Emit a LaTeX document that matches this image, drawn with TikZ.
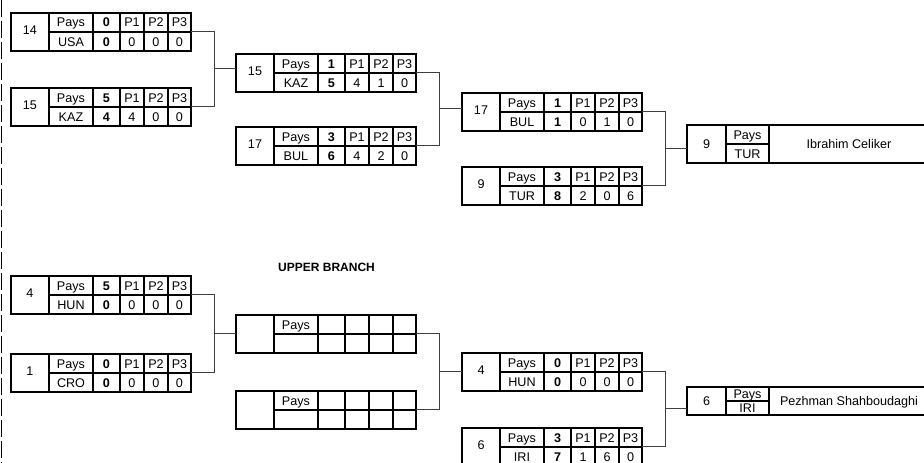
\documentclass[tikz,border=0pt]{standalone}
\usepackage{fontspec}
\setmainfont{Liberation Sans}
\usetikzlibrary{calc}
\tikzset{
 boxline/.style={line width=2.4pt, black},
 innerline/.style={line width=1.8pt, black},
 conn/.style={line width=1pt, black!75},
 txt/.style={inner sep=0pt, text height=9pt, text depth=0pt, font=\fontsize{12.6}{14}\selectfont},
 bt/.style={txt, font=\fontsize{12.6}{14}\selectfont\bfseries},
 titletxt/.style={inner sep=0pt, font=\fontsize{12}{14}\selectfont\bfseries},
 leftdash/.style={line width=1.3pt, dash pattern=on 17pt off 4pt},
}
\newcommand{\boxgrid}{%
 \draw[innerline] (38,0)--(38,38) (82,0)--(82,38) (109,0)--(109,38) (133,0)--(133,38) (157,0)--(157,38) (38,19)--(180,19);
 \draw[boxline] (0,0) rectangle (180,38);}
\newcommand{\matchbox}[9]{%
\begin{scope}[shift={#2}]
 \boxgrid
 \node[txt] (#1-n) at (19,17) {#3};
 \node[txt] (#1-h0) at (60,9.5) {Pays};
 \node[txt] (#1-c) at (60,28.5) {#4};
 \node[bt] (#1-s1) at (95.5,9.5) {#5};
 \node[bt] (#1-s2) at (95.5,28.5) {#6};
 \node[txt] (#1-h1) at (121,9.5) {P1};
 \node[txt] (#1-h2) at (145,9.5) {P2};
 \node[txt] (#1-h3) at (168.5,9.5) {P3};
 \node[txt] (#1-v1) at (121,28.5) {#7};
 \node[txt] (#1-v2) at (145,28.5) {#8};
 \node[txt] (#1-v3) at (168.5,28.5) {#9};
 \coordinate (#1-out) at (180,18);
 \coordinate (#1-left) at (0,19);
\end{scope}}
\newcommand{\emptybox}[2]{%
\begin{scope}[shift={#2}]
 \boxgrid
 \node[txt] (#1-h0) at (60,9.5) {Pays};
 \coordinate (#1-out) at (180,18);
 \coordinate (#1-left) at (0,19);
\end{scope}}
\newcommand{\finalbox}[6]{%
\begin{scope}[shift={#2}]
 \draw[innerline] (39,0)--(39,#3) (82,0)--(82,#3) (39,#3/2)--(82,#3/2);
 \draw[boxline] (0,0) rectangle (245,#3);
 \node[txt] (#1-n) at (19.5,#3/2) {#4};
 \node[txt] (#1-h0) at (60.5,#3/4) {Pays};
 \node[txt] (#1-c) at (60.5,#3*3/4) {#5};
 \node[txt] (#1-name) at (162,#3/2) {#6};
 \coordinate (#1-left) at (0,#3/2);
\end{scope}}
\begin{document}
\begin{tikzpicture}[x=1pt,y=-1pt]
\clip (0,0) rectangle (924,463);
\fill[white] (0,0) rectangle (924,463);
\draw[leftdash] (1.5,0) -- (1.5,463);

% upper half
\matchbox{a1}{(11,13)}{14}{USA}{0}{0}{0}{0}{0}
\matchbox{a2}{(11,88)}{15}{KAZ}{5}{4}{4}{0}{0}
\matchbox{b1}{(236,54)}{15}{KAZ}{1}{5}{4}{1}{0}
\matchbox{b2}{(236,127)}{17}{BUL}{3}{6}{4}{2}{0}
\matchbox{c1}{(462,93)}{17}{BUL}{1}{1}{0}{1}{0}
\matchbox{c2}{(462,167)}{9}{TUR}{3}{8}{2}{0}{6}
\finalbox{f1}{(687,125)}{38}{9}{TUR}{Ibrahim Celiker}

% lower half
\node[titletxt, anchor=west] (title) at (278,267) {UPPER BRANCH};
\matchbox{d1}{(11,276)}{4}{HUN}{5}{0}{0}{0}{0}
\matchbox{d2}{(11,354)}{1}{CRO}{0}{0}{0}{0}{0}
\emptybox{e1}{(236,315)}
\emptybox{e2}{(236,391)}
\matchbox{g1}{(462,353)}{4}{HUN}{0}{0}{0}{0}{0}
\matchbox{g2}{(462,428)}{6}{IRI}{3}{7}{1}{6}{0}
\finalbox{f2}{(687,387)}{28}{6}{IRI}{Pezhman Shahboudaghi}

% connectors
\draw[conn] (a1-out) -- ($(a1-out)+(23,0)$) |- (a2-out);
\path ($(a1-out)!0.5!(a2-out)+(23,0)$) coordinate (j1);
\draw[conn] (j1) -- (j1 -| b1-left);
\draw[conn] (b1-out) -- ($(b1-out)+(23,0)$) |- (b2-out);
\path ($(b1-out)!0.5!(b2-out)+(23,0)$) coordinate (j2);
\draw[conn] (j2) -- (j2 -| c1-left);
\draw[conn] (c1-out) -- ($(c1-out)+(23,0)$) |- (c2-out);
\path ($(c1-out)!0.5!(c2-out)+(23,0)$) coordinate (j3);
\draw[conn] (j3) -- (j3 -| f1-left);

\draw[conn] (d1-out) -- ($(d1-out)+(23,0)$) |- (d2-out);
\path ($(d1-out)!0.5!(d2-out)+(23,0)$) coordinate (k1);
\draw[conn] (k1) -- (k1 -| e1-left);
\draw[conn] (e1-out) -- ($(e1-out)+(23,0)$) |- (e2-out);
\path ($(e1-out)!0.5!(e2-out)+(23,0)$) coordinate (k2);
\draw[conn] (k2) -- (k2 -| g1-left);
\draw[conn] (g1-out) -- ($(g1-out)+(23,0)$) |- (g2-out);
\path ($(g1-out)!0.5!(g2-out)+(23,0)$) coordinate (k3);
\draw[conn] (k3) -- (k3 -| f2-left);
\end{tikzpicture}
\end{document}
